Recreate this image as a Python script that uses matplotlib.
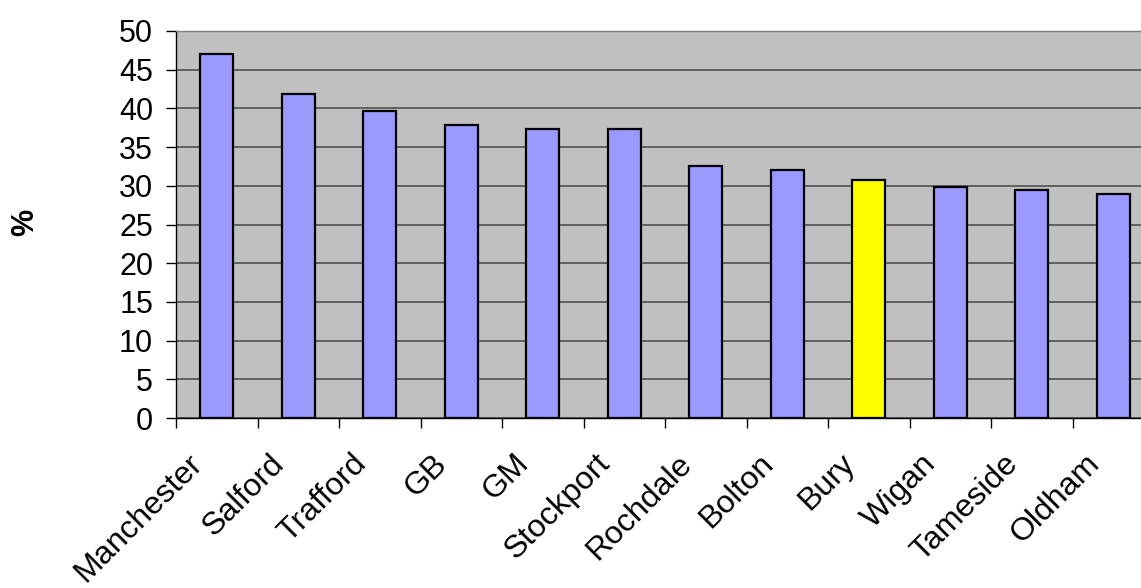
import matplotlib
matplotlib.use("Agg")
import matplotlib.pyplot as plt
from matplotlib.transforms import ScaledTranslation
import numpy as np

categories = ["Manchester", "Salford", "Trafford", "GB", "GM", "Stockport",
              "Rochdale", "Bolton", "Bury", "Wigan", "Tameside", "Oldham"]
values = [47.0, 41.9, 39.6, 37.9, 37.3, 37.3, 32.5, 32.1, 30.8, 29.8, 29.5, 29.0]
highlight = "Bury"
y_ticks = list(range(0, 51, 5))

plt.rcParams['font.family'] = ['Liberation Sans', 'DejaVu Sans']

W, H = 1141, 588
fig = plt.figure(figsize=(W / 100, H / 100), dpi=100)
ax = fig.add_axes([176 / W, (H - 418) / H, (1154 - 176) / W, (418 - 31) / H])
ax.set_facecolor('#c0c0c0')

x = np.arange(len(categories))
colors = ['#ffff00' if c == highlight else '#9999ff' for c in categories]
ax.bar(x, values, width=0.41, color=colors, edgecolor='black', linewidth=1.6, zorder=3)

ax.set_xlim(-0.5, len(categories) - 0.5)
ax.set_ylim(0, 50)
ax.set_yticks(y_ticks)
ax.yaxis.grid(True, color='#505050', linewidth=1.2, zorder=1)
ax.set_axisbelow(True)

ax.set_xticks(x)
ax.set_xticklabels(categories, rotation=45, ha='right', va='top',
                   rotation_mode='anchor', fontsize=23)
ax.set_xticks(np.arange(-0.5, len(categories) + 0.5, 1), minor=True)
ax.tick_params(axis='x', which='major', length=0, pad=22)
ax.tick_params(axis='x', which='minor', length=7, width=1, color='black', direction='out')
ax.tick_params(axis='y', length=7.5, width=1, labelsize=22, pad=9, direction='out')

offset = ScaledTranslation(-29 / 100, 0, fig.dpi_scale_trans)
for lbl in ax.get_xticklabels():
    lbl.set_transform(lbl.get_transform() + offset)

ax.spines['top'].set_color('#808080')
ax.spines['top'].set_linewidth(1)
ax.spines['right'].set_visible(False)
ax.spines['left'].set_color('black')
ax.spines['bottom'].set_color('black')
ax.spines['left'].set_linewidth(1)
ax.spines['bottom'].set_linewidth(1)

fig.text(25 / W, 1 - 222 / H, '%', rotation=90, fontsize=22, fontweight='bold',
         ha='center', va='center')

fig.savefig('out.png', dpi=100)
